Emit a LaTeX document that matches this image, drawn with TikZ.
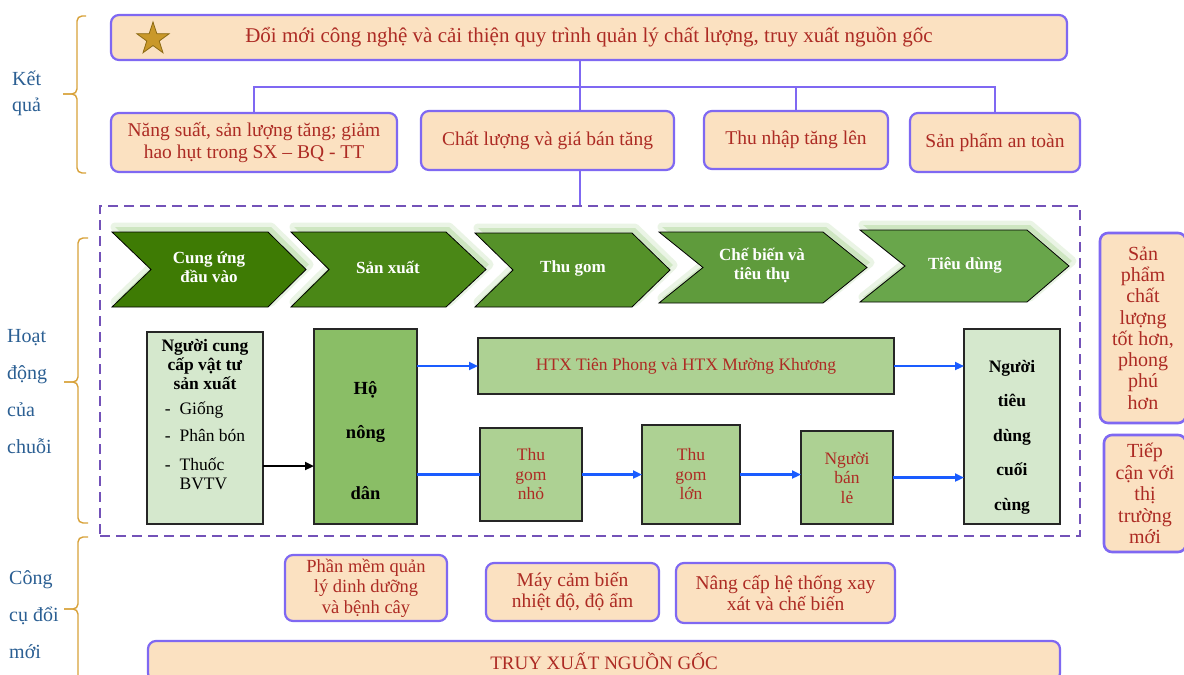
\documentclass[tikz,border=0pt]{standalone}
\usepackage{fontspec}
\setmainfont{Liberation Serif}
\usetikzlibrary{arrows.meta,shapes.geometric}

\definecolor{peach}{HTML}{FBE1C1}
\definecolor{boxline}{HTML}{7F68F2}
\definecolor{darkred}{HTML}{AD2B24}
\definecolor{labelblue}{HTML}{2B5F93}
\definecolor{bracegold}{HTML}{D8A23A}
\definecolor{framepurple}{HTML}{7352B8}
\definecolor{flowblue}{HTML}{1A5CFF}
\definecolor{chevA}{HTML}{3E7B04}
\definecolor{chevB}{HTML}{4A8716}
\definecolor{chevC}{HTML}{559129}
\definecolor{chevD}{HTML}{5F9B3C}
\definecolor{chevE}{HTML}{69A64B}
\definecolor{glow}{HTML}{BCDDAA}
\definecolor{farmgreen}{HTML}{8ABE66}
\definecolor{midgreen}{HTML}{ADD193}
\definecolor{palegreen}{HTML}{D5E8CD}
\definecolor{gold}{HTML}{C9982A}
\definecolor{golddark}{HTML}{8C6A14}

\begin{document}
\begin{tikzpicture}[x=1pt,y=-1pt,
  resbox/.style={draw=boxline,line width=2.2pt,rounded corners=8pt,fill=peach,text=darkred,align=center,inner sep=0pt,outer sep=0pt},
  chainbox/.style={draw=black!85,line width=1.8pt,inner sep=0pt,outer sep=0pt,align=center},
  chev/.style={draw=black,line width=.8pt,
    preaction={draw=glow,line width=9pt,line join=round,draw opacity=.3,transform canvas={shift={(3pt,5pt)}}},
    preaction={fill=glow,fill opacity=.6,transform canvas={shift={(3pt,5pt)}}}},
  chevtext/.style={text=white,font=\fontsize{17}{19}\selectfont\bfseries,align=center},
  link/.style={draw=boxline,line width=2.4pt},
  flow/.style={draw=flowblue,line width=2.2pt,-{Triangle[length=9pt,width=8pt]}},
  brace/.style={draw=bracegold,line width=1.4pt,rounded corners=5pt},
  lbl/.style={text=labelblue,anchor=west,align=left,inner sep=0pt}]

\clip (0,0) rectangle (1184,675);
\fill[white] (0,0) rectangle (1184,675);

% ket qua
\node (title) [resbox,minimum width=956pt,minimum height=45pt,font=\fontsize{21}{24}\selectfont] at (589,37.5) {Đổi mới công nghệ và cải thiện quy trình quản lý chất lượng, truy xuất nguồn gốc};
\node (star) [star,star points=5,star point ratio=2.6,minimum size=34pt,inner sep=0pt,fill=gold,draw=golddark,line width=.8pt] at (153,39) {};

\node (r1) [resbox,minimum width=286pt,minimum height=59pt,font=\fontsize{19.5}{22}\selectfont] at (254,142.5) {Năng suất, sản lượng tăng; giảm\\hao hụt trong SX -- BQ - TT};
\node (r2) [resbox,minimum width=253pt,minimum height=59pt,font=\fontsize{19.5}{22}\selectfont] at (547.5,140.5) {Chất lượng và giá bán tăng};
\node (r3) [resbox,minimum width=184pt,minimum height=58pt,font=\fontsize{19.5}{22}\selectfont] at (796,140) {Thu nhập tăng lên};
\node (r4) [resbox,minimum width=170pt,minimum height=59pt,font=\fontsize{19.5}{22}\selectfont] at (995,142.5) {Sản phẩm an toàn};

\coordinate (hub) at (580,87);
\draw[link] (title.south -| hub) -- (hub);
\draw[link] (r1.north) |- (hub) -| (r4.north);
\draw[link] (hub) -- (hub |- r2.north);
\draw[link] (r3.north |- hub) -- (r3.north);

% hoat dong cua chuoi
\node (frame) [draw=framepurple,line width=2pt,dash pattern=on 10pt off 6pt,minimum width=980pt,minimum height=330pt,inner sep=0pt] at (590,371) {};
\draw[link] (hub |- r2.south) -- (hub |- frame.north);

\path[chev,fill=chevA] (112,232) -- (268,232) -- (306,269.5) -- (268,307) -- (112,307) -- (151,269.5) -- cycle;
\path[chev,fill=chevB] (291,232) -- (446,232) -- (486,269.5) -- (446,307) -- (291,307) -- (329,269.5) -- cycle;
\path[chev,fill=chevC] (475,233) -- (632,233) -- (670,270) -- (632,307) -- (475,307) -- (513,270) -- cycle;
\path[chev,fill=chevD] (659,232) -- (823,232) -- (867,267.5) -- (823,303) -- (659,303) -- (703,267.5) -- cycle;
\path[chev,fill=chevE] (860,230) -- (1027,230) -- (1069,266) -- (1027,302) -- (860,302) -- (905,266) -- cycle;
\node (cv1) [chevtext] at (209,267) {Cung ứng\\đầu vào};
\node (cv2) [chevtext] at (388,267) {Sản xuất};
\node (cv3) [chevtext] at (573,268) {Thu gom};
\node (cv4) [chevtext] at (762,265) {Chế biến và\\tiêu thụ};
\node (cv5) [chevtext] at (965,265) {Tiêu dùng};

\node (ncc) [chainbox,fill=palegreen,minimum width=116pt,minimum height=192pt] at (205,428) {};
\node (ncctext) [align=center,font=\fontsize{17.5}{19}\selectfont] at ([yshift=10.5pt]ncc.center) {\textbf{Người cung}\\\textbf{cấp vật tư}\\\textbf{sản xuất}\\[10pt]
  \begin{tabular}{@{}l@{\hspace{9pt}}l@{}} -&Giống\\[8pt] -&Phân bón\\[10pt] -&Thuốc\\ &BVTV\end{tabular}};
\node (hond) [chainbox,fill=farmgreen,minimum width=103pt,minimum height=195pt] at (365.5,426.5) {};
\node (hondtext) [align=center,font=\fontsize{18.5}{44}\selectfont\bfseries] at ([yshift=-14pt]hond.center) {Hộ\\nông\\[17pt]dân};
\node (htx) [chainbox,fill=midgreen,minimum width=416pt,minimum height=56pt,text=darkred,font=\fontsize{17.5}{20}\selectfont] at (686,366) {HTX Tiên Phong và HTX Mường Khương};
\node (tgn) [chainbox,fill=midgreen,minimum width=102pt,minimum height=93pt,text=darkred,font=\fontsize{17.5}{19.5}\selectfont] at (531,474.5) {Thu\\gom\\nhỏ};
\node (tgl) [chainbox,fill=midgreen,minimum width=98pt,minimum height=99pt,text=darkred,font=\fontsize{17.5}{19.5}\selectfont] at (691,474.5) {Thu\\gom\\lớn};
\node (nbl) [chainbox,fill=midgreen,minimum width=92pt,minimum height=93pt,text=darkred,font=\fontsize{17.5}{19.5}\selectfont] at (847,477.5) {Người\\bán\\lẻ};
\node (ntd) [chainbox,fill=palegreen,minimum width=96pt,minimum height=195pt] at (1012,426.5) {};
\node (ntdtext) [align=center,font=\fontsize{17.5}{34.5}\selectfont\bfseries] at ([yshift=-10.5pt]ntd.center) {Người\\tiêu\\dùng\\cuối\\cùng};

\draw[line width=2.2pt,-{Triangle[length=9pt,width=8pt]}] ([yshift=-38pt]ncc.east) -- ([yshift=-38pt]ncc.east -| hond.west);
\draw[flow] (hond.east |- htx.west) -- (htx.west);
\draw[draw=flowblue,line width=2.2pt] (hond.east |- tgn.west) -- (tgn.west);
\draw[flow] (tgn.east) -- (tgn.east -| tgl.west);
\draw[flow] (tgl.east) -- (tgl.east -| nbl.west);
\draw[flow] (nbl.east) -- (nbl.east -| ntd.west);
\draw[flow] (htx.east) -- (htx.east -| ntd.west);

\node (better) [resbox,line width=2.6pt,minimum width=86pt,minimum height=190pt,font=\fontsize{20}{21.3}\selectfont] at (1143,328) {Sản\\phẩm\\chất\\lượng\\tốt hơn,\\phong\\phú\\hơn};
\node (market) [resbox,line width=2.6pt,minimum width=82pt,minimum height=117pt,font=\fontsize{20}{21.5}\selectfont] at (1145,493.5) {Tiếp\\cận với\\thị\\trường\\mới};

% cong cu doi moi
\node (soft) [resbox,minimum width=162pt,minimum height=66pt,font=\fontsize{18.5}{20.5}\selectfont] at (366,588) {Phần mềm quản\\lý dinh dưỡng\\và bệnh cây};
\node (sensor) [resbox,minimum width=173pt,minimum height=58pt,font=\fontsize{19.5}{21}\selectfont] at (572.5,592) {Máy cảm biến\\nhiệt độ, độ ẩm};
\node (mill) [resbox,minimum width=219pt,minimum height=60pt,font=\fontsize{19.5}{21}\selectfont] at (785.5,593) {Nâng cấp hệ thống xay\\xát và chế biến};
\node (trace) [resbox,minimum width=912pt,minimum height=40pt,font=\fontsize{19}{21}\selectfont] at (604,661) {TRUY XUẤT NGUỒN GỐC};

% braces and side labels
\draw[brace] (86,16) -- (77,16) -- (77,94) -- (63,94);
\draw[brace] (86,173) -- (77,173) -- (77,94) -- (63,94);
\draw[brace] (88,238) -- (78,238) -- (78,382) -- (64,382);
\draw[brace] (88,523) -- (78,523) -- (78,382) -- (64,382);
\draw[brace] (88,537) -- (78,537) -- (78,609) -- (64,609);
\draw[brace] (88,700) -- (78,700) -- (78,609) -- (64,609);
\node (kq) [lbl,font=\fontsize{20}{26}\selectfont] at (12,93) {Kết\\quả};
\node (hd) [lbl,font=\fontsize{20}{37}\selectfont] at (7,392) {Hoạt\\động\\của\\chuỗi};
\node (cc) [lbl,font=\fontsize{20}{37}\selectfont] at (9,615) {Công\\cụ đổi\\mới};
\end{tikzpicture}
\end{document}
